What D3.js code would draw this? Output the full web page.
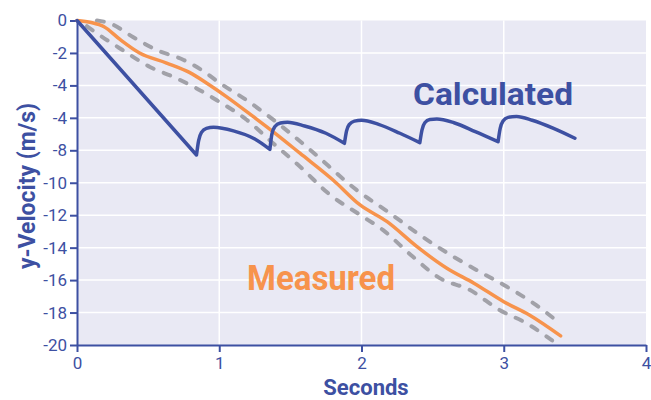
<!DOCTYPE html>
<html>
<head>
<meta charset="utf-8">
<script src="https://cdn.jsdelivr.net/npm/d3@7"></script>
<style>
  body { margin: 0; background: #fff; }
  text { font-family: Roboto, "Noto Sans", sans-serif; }
</style>
</head>
<body>
<svg id="chart" width="651" height="400"></svg>
<script>
// tick labels as printed on the original (note the repeated "-4")
const xTicks = [0, 1, 2, 3, 4]
const yTicks = [0, -2, -4, -6, -8, -10, -12, -14, -16, -18, -20]
const yTickLabels = ['0', '-2', '-4', '-4', '-8', '-10', '-12', '-14', '-16', '-18', '-20']

// calculated velocity (saw-tooth)
const calcT = [0, 0.84, 0.855, 0.875, 0.91, 0.96, 1.1, 1.25, 1.356,
  1.37, 1.39, 1.43, 1.48, 1.6, 1.75, 1.88,
  1.895, 1.915, 1.95, 2.0, 2.12, 2.27, 2.41,
  2.425, 2.445, 2.48, 2.53, 2.65, 2.8, 2.96,
  2.975, 2.995, 3.03, 3.09, 3.2, 3.35, 3.5]
const calcV = [0, -8.29, -7.4, -6.9, -6.65, -6.58, -6.8, -7.3, -7.94,
  -7.0, -6.55, -6.32, -6.27, -6.5, -6.95, -7.57,
  -6.8, -6.4, -6.2, -6.15, -6.4, -6.95, -7.53,
  -6.75, -6.3, -6.1, -6.07, -6.3, -6.85, -7.47,
  -6.65, -6.2, -5.97, -5.92, -6.15, -6.65, -7.26]

// measured velocity
const measT = [0, 0.1, 0.19, 0.30, 0.44, 0.63, 0.79, 0.91, 1.05, 1.24, 1.40, 1.567, 1.80, 1.99, 2.18, 2.39, 2.60, 2.79, 3.0, 3.18, 3.40]
const measV = [0, -0.12, -0.38, -1.15, -2.0, -2.62, -3.2, -3.85, -4.69, -5.93, -7.0, -8.18, -9.83, -11.37, -12.40, -13.94, -15.27, -16.19, -17.33, -18.15, -19.44]

// measurement band, upper and lower bounds
const upperT = [0.14, 0.23, 0.39, 0.56, 0.75, 0.91, 0.99, 1.19, 1.45, 1.64, 1.965, 2.20, 2.41, 2.645, 2.83, 3.02, 3.21, 3.40]
const upperV = [0, -0.17, -1.0, -1.82, -2.43, -3.25, -3.77, -4.9, -6.6, -7.98, -10.44, -11.88, -13.22, -14.55, -15.48, -16.40, -17.43, -18.70]
const lowerT = [0.07, 0.14, 0.32, 0.51, 0.70, 0.86, 0.98, 1.19, 1.37, 1.567, 1.78, 1.99, 2.15, 2.36, 2.55, 2.76, 2.97, 3.16, 3.36]
const lowerV = [-0.35, -0.79, -1.82, -2.85, -3.56, -4.28, -4.9, -6.1, -7.5, -9.0, -10.75, -11.98, -12.91, -14.55, -15.88, -16.6, -17.84, -18.66, -19.85]

const blue = '#3d50a2'
const orange = '#f7934c'
const grey = '#a1a1a8'

const svg = d3.select('#chart')
const plotL = 77, plotR = 646, plotT = 20.5, plotB = 345

const x = d3.scaleLinear().domain([0, 4]).range([plotL, plotR])
const y = d3.scaleLinear().domain([0, -20]).range([plotT, plotB])

// plot background
svg.append('rect')
    .attr('x', plotL).attr('y', plotT)
    .attr('width', plotR - plotL).attr('height', plotB - plotT)
    .attr('fill', '#e9e9f4')

// grid
svg.append('g')
    .selectAll('line')
    .data(yTicks.slice(1, -1))
    .join('line')
    .attr('x1', plotL).attr('x2', plotR)
    .attr('y1', d => y(d)).attr('y2', d => y(d))
    .attr('stroke', '#fff').attr('stroke-width', 1.5)

svg.append('g')
    .selectAll('line')
    .data(xTicks.slice(1, -1))
    .join('line')
    .attr('x1', d => x(d)).attr('x2', d => x(d))
    .attr('y1', plotT).attr('y2', plotB)
    .attr('stroke', '#fff').attr('stroke-width', 1.5)

// axes
const xAxis = svg.append('g')
    .attr('transform', `translate(0,${plotB})`)
    .call(d3.axisBottom(x).tickValues(xTicks).tickSize(7).tickPadding(5).tickSizeOuter(0)
        .tickFormat(d3.format('d')))
const yAxis = svg.append('g')
    .attr('transform', `translate(${plotL},0)`)
    .call(d3.axisLeft(y).tickValues(yTicks).tickSize(7).tickPadding(3).tickSizeOuter(0)
        .tickFormat((d, i) => yTickLabels[i]))

;[xAxis, yAxis].forEach(a => {
    a.select('.domain').attr('stroke', blue).attr('stroke-width', 2)
    a.selectAll('.tick line').attr('stroke', blue).attr('stroke-width', 2)
    a.selectAll('.tick text')
        .attr('fill', blue)
        .style('font-size', '17px')
        .style('font-family', 'Roboto, sans-serif')
})

const line = (ts, vs, idx, curve) => d3.line()
    .x(i => x(ts[i]))
    .y(i => y(vs[i]))
    .curve(curve)(idx)

// band
;[[upperT, upperV], [lowerT, lowerV]].forEach(([ts, vs]) => {
    svg.append('path')
        .attr('d', line(ts, vs, d3.range(ts.length), d3.curveMonotoneX))
        .attr('fill', 'none')
        .attr('stroke', grey)
        .attr('stroke-width', 4)
        .attr('stroke-linecap', 'round')
        .attr('stroke-dasharray', '7,11')
})

svg.append('path')
    .attr('d', line(measT, measV, d3.range(measT.length), d3.curveMonotoneX))
    .attr('fill', 'none')
    .attr('stroke', orange)
    .attr('stroke-width', 3.5)
    .attr('stroke-linecap', 'round')

// calculated: straight fall to the first trough, then one smooth piece per cycle,
// joined into a single continuous path so the troughs are sharp cusps
const troughs = d3.range(1, calcT.length - 1)
    .filter(i => calcV[i] < calcV[i - 1] && calcV[i] < calcV[i + 1])
const cuts = [0, ...troughs, calcT.length - 1]
let calcPath = ''
cuts.slice(1).forEach((end, k) => {
    const idx = d3.range(cuts[k], end + 1)
    const seg = line(calcT, calcV, idx, k === 0 ? d3.curveLinear : d3.curveMonotoneX)
    calcPath += k === 0 ? seg : 'L' + seg.slice(1)
})

svg.append('path')
    .attr('d', calcPath)
    .attr('fill', 'none')
    .attr('stroke', blue)
    .attr('stroke-width', 3.5)
    .attr('stroke-linejoin', 'round')
    .attr('stroke-linecap', 'round')

// labels
svg.append('text')
    .attr('x', 413).attr('y', 105)
    .attr('textLength', 160).attr('lengthAdjust', 'spacingAndGlyphs')
    .attr('fill', blue)
    .style('font-size', '32px').style('font-weight', 'bold')
    .text('Calculated')

svg.append('text')
    .attr('x', 247).attr('y', 290)
    .attr('textLength', 148).attr('lengthAdjust', 'spacingAndGlyphs')
    .attr('fill', orange)
    .style('font-size', '35px').style('font-weight', 'bold')
    .text('Measured')

svg.append('text')
    .attr('x', 366).attr('y', 395)
    .attr('text-anchor', 'middle')
    .attr('fill', blue)
    .style('font-size', '22px').style('font-weight', 'bold')
    .text('Seconds')

svg.append('text')
    .attr('transform', 'translate(35,186) rotate(-90)')
    .attr('text-anchor', 'middle')
    .attr('fill', blue)
    .style('font-size', '23px').style('font-weight', 'bold')
    .text('y-Velocity (m/s)')
</script>
</body>
</html>
